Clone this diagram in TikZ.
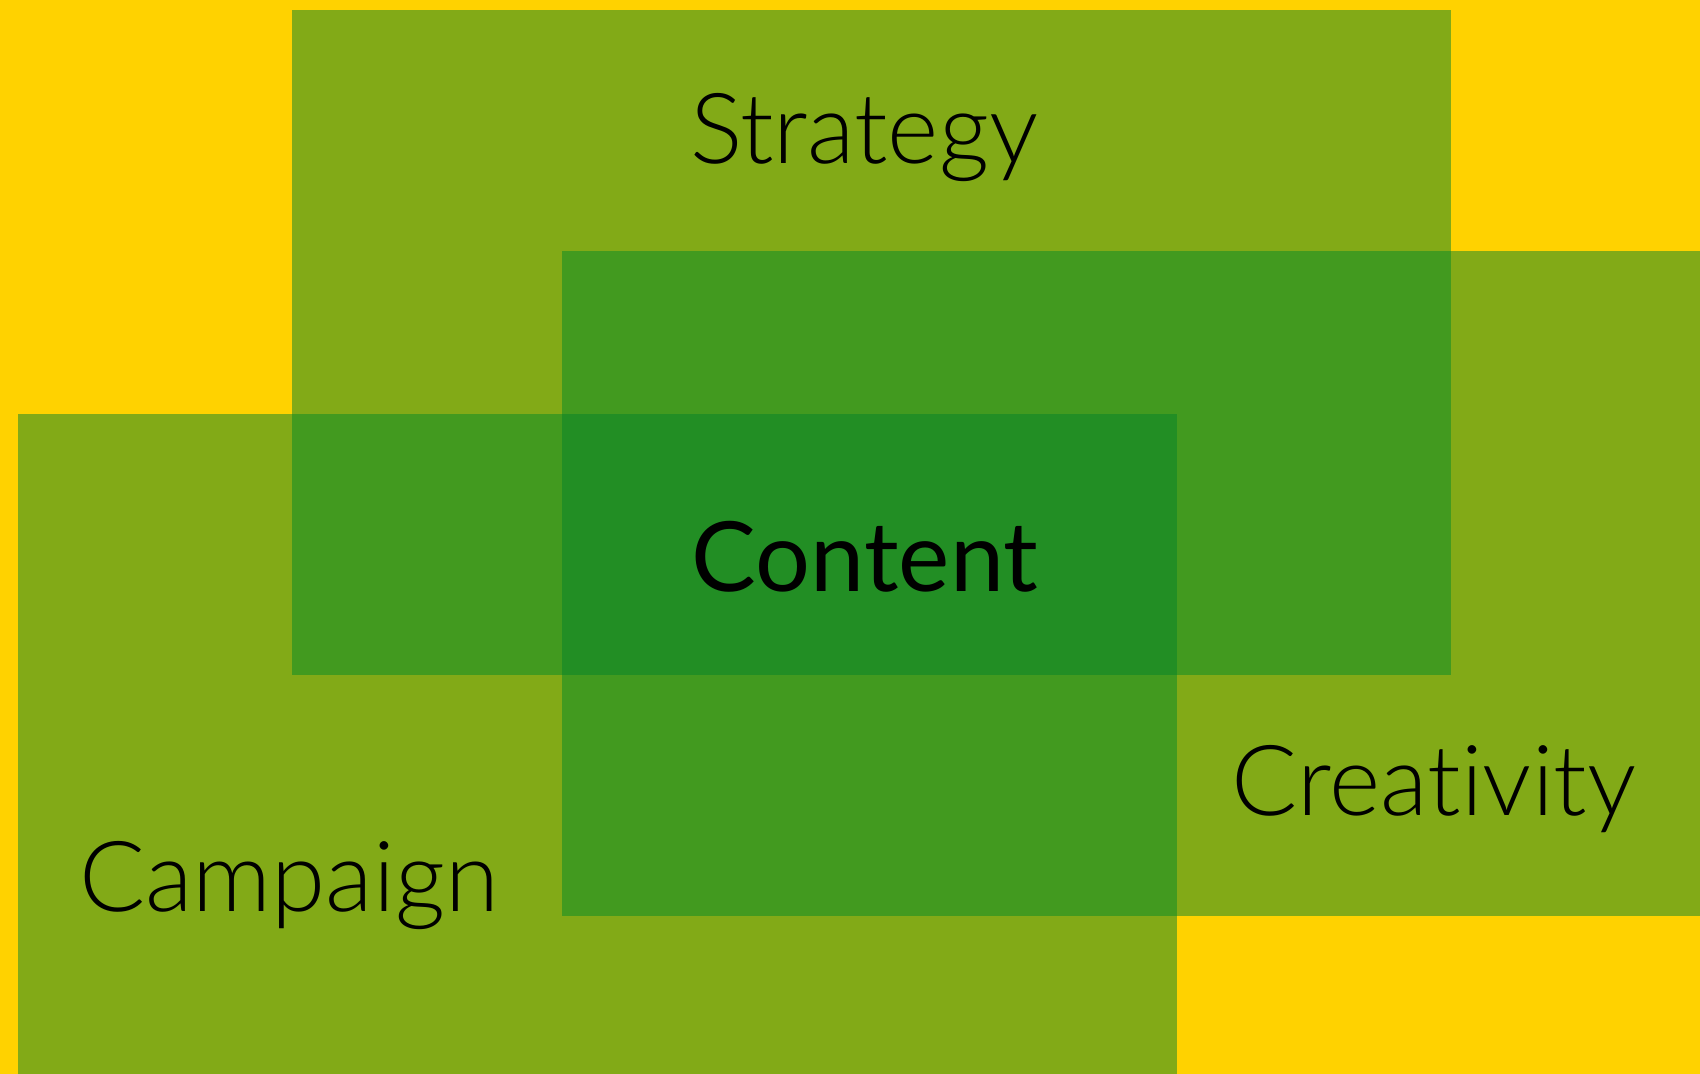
\documentclass[tikz,border=0pt]{standalone}
\usepackage{fontspec}
\setmainfont[Ligatures={NoCommon}]{Lato}
\newfontfamily\latolight[Ligatures={NoCommon}]{Lato Light}
\definecolor{bgyellow}{RGB}{255,210,0}
\definecolor{oneg}{RGB}{130,170,23}
\definecolor{twog}{RGB}{66,154,31}
\definecolor{threeg}{RGB}{34,142,36}
\tikzset{
  lbl/.style={anchor=base, inner sep=0pt, text=black, font=\latolight\fontsize{49}{58}\selectfont},
  mainlbl/.style={anchor=base, inner sep=0pt, text=black, font=\fontsize{48.5}{58}\selectfont},
}
\begin{document}
\begin{tikzpicture}[x=0.5pt,y=-0.5pt]
\useasboundingbox (0,0) rectangle (1700,1074);
\fill[bgyellow] (0,0) rectangle (1700,1074);
% single areas
\fill[oneg] (292,10) rectangle (1451,675);
\fill[oneg] (562,251) rectangle (1700,916);
\fill[oneg] (18,414) rectangle (1177,1074);
% double overlaps
\fill[twog] (562,251) rectangle (1451,675);
\fill[twog] (292,414) rectangle (1177,675);
\fill[twog] (562,414) rectangle (1177,916);
% triple
\fill[threeg] (562,414) rectangle (1177,675);
\node[lbl] (strategy) at (864,164) {Strategy};
\node[mainlbl] (content) at (865,591) {Content};
\node[lbl] (creativity) at (1434,815) {Creativity};
\node[lbl] (campaign) at (289,911) {Campaign};
\end{tikzpicture}
\end{document}
